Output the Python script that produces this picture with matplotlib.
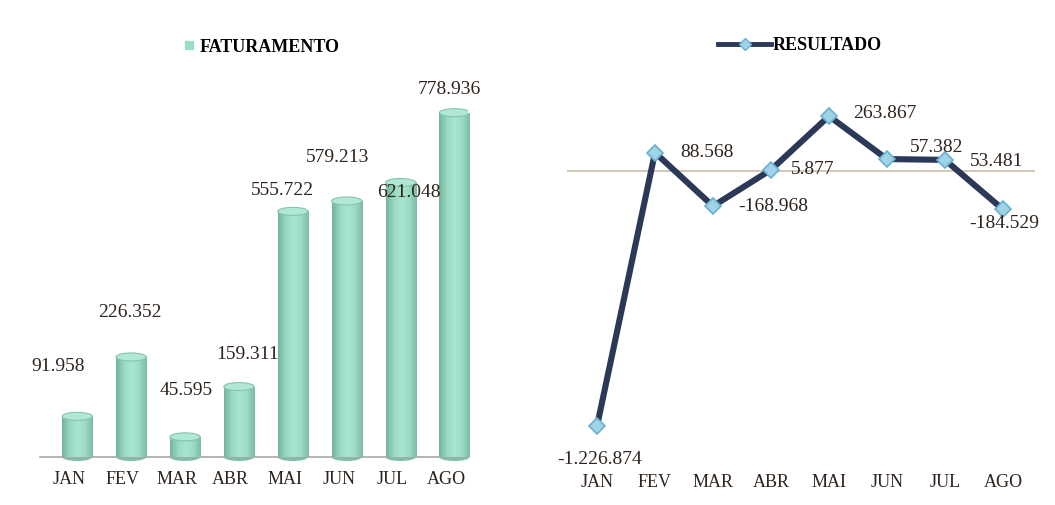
import matplotlib
matplotlib.use("Agg")
import matplotlib.pyplot as plt
import numpy as np
from matplotlib.patches import Ellipse
from matplotlib.lines import Line2D
from matplotlib.colors import LinearSegmentedColormap

plt.rcParams['font.family'] = ['Liberation Serif', 'DejaVu Serif']

months = ["JAN", "FEV", "MAR", "ABR", "MAI", "JUN", "JUL", "AGO"]
faturamento = [91958, 226352, 45595, 159311, 555722, 579213, 621048, 778936]
fat_labels = ["91.958", "226.352", "45.595", "159.311", "555.722", "579.213", "621.048", "778.936"]
resultado = [-1226874, 88568, -168968, 5877, 263867, 57382, 53481, -184529]
res_labels = ["-1.226.874", "88.568", "-168.968", "5.877", "263.867", "57.382", "53.481", "-184.529"]

# label offsets in pixels (style)
fat_off = [(-11, 50), (7, 44), (9, 46), (17, 32), (-2, 21), (-1, 43), (16, -10), (3, 23)]
res_off = [(3, -33), (52, 0), (60, 0), (42, 0), (56, 3), (50, 12), (52, -2), (1, -14)]

W, H = 1055, 505
fig = plt.figure(figsize=(W / 100, H / 100), dpi=100)
fig.patch.set_facecolor("white")

txt_color = "#2e231d"

# ---------------- left: cylinders ----------------
axL = fig.add_axes([40 / W, 48 / H, 428 / W, 377 / H])
for s in ["top", "right", "left"]:
    axL.spines[s].set_visible(False)
axL.spines["bottom"].set_color("#a9a9a9")
axL.spines["bottom"].set_linewidth(1.2)
axL.set_yticks([])
x = np.arange(len(months))
axL.set_xticks(x)
axL.set_xticklabels(months, fontsize=13, color=txt_color)
axL.tick_params(axis="x", length=0, pad=10)

bar_w = 0.56
shift = 0.15
px_per_unit_y = 377 / 852900
ell_h = 8 / px_per_unit_y
cmap = LinearSegmentedColormap.from_list(
    "cyl", ["#74b29c", "#98d9c1", "#a9e5d0", "#9edcc6", "#7cbba4"])
grad = np.linspace(0, 1, 64).reshape(1, -1)
for i, v in enumerate(faturamento):
    xc = x[i] + shift
    axL.add_patch(Ellipse((xc, 0), bar_w, ell_h, facecolor="#7fbfa8",
                          edgecolor="none", zorder=2, clip_on=False))
    bars = axL.bar([xc], [v], width=bar_w, color="none", edgecolor="none", zorder=3)
    rect = bars[0]
    im = axL.imshow(grad, cmap=cmap, aspect="auto",
                    extent=[xc - bar_w / 2, xc + bar_w / 2, 0, v], zorder=3)
    im.set_clip_path(rect)
    axL.add_patch(Ellipse((xc, v), bar_w, ell_h, facecolor="#b0e8d4",
                          edgecolor="#86c4ad", linewidth=0.8, zorder=4))
    axL.annotate(fat_labels[i], (x[i], v), xytext=fat_off[i], textcoords="offset pixels",
                 ha="center", va="center", fontsize=14, color=txt_color, zorder=5,
                 annotation_clip=False)
axL.set_xlim(-0.54, 7.4)
axL.set_ylim(0, 852900)

# ---------------- right: line ----------------
axR = fig.add_axes([567 / W, 35 / H, 468 / W, 390 / H])
axR.set_xlim(-0.517, 7.552)
axR.set_ylim(-1437500, 437500)
for s in ["top", "right", "left", "bottom"]:
    axR.spines[s].set_visible(False)
axR.set_yticks([])
axR.set_xticks(x)
axR.set_xticklabels(months, fontsize=13, color=txt_color)
axR.tick_params(axis="x", length=0, pad=3)
axR.axhline(0, color="#c8b9a2", linewidth=1.1, zorder=1)
axR.plot(x, resultado, color="#2b3858", linewidth=4.4, zorder=2,
         solid_joinstyle="miter")
axR.plot(x, resultado, linestyle="none", marker="D", markersize=8,
         markerfacecolor="#9fd3e6", markeredgecolor="#6aaed0", markeredgewidth=1.2, zorder=3)
for i, v in enumerate(resultado):
    axR.annotate(res_labels[i], (x[i], v), xytext=res_off[i], textcoords="offset pixels",
                 ha="center", va="center", fontsize=14, color=txt_color, zorder=5,
                 annotation_clip=False)

# ---------------- legends ----------------
hL = Line2D([], [], linestyle="none", marker="s", markersize=6,
            markerfacecolor="#9adcc4", markeredgecolor="#9adcc4")
fig.legend([hL], ["FATURAMENTO"], loc="center", bbox_to_anchor=(262 / W, 1 - 47 / H),
           frameon=False, handlelength=0.6, handletextpad=0.3,
           prop={"family": "Liberation Serif", "weight": "bold", "size": 13})
hR = Line2D([], [], color="#2b3858", linewidth=3.5, marker="D", markersize=6,
            markerfacecolor="#9fd3e6", markeredgecolor="#6aaed0")
fig.legend([hR], ["RESULTADO"], loc="center", bbox_to_anchor=(800 / W, 1 - 46 / H),
           frameon=False, handlelength=2.9, handletextpad=0.1,
           prop={"family": "Liberation Serif", "weight": "bold", "size": 13})

fig.savefig("out.png", dpi=100, facecolor="white")
